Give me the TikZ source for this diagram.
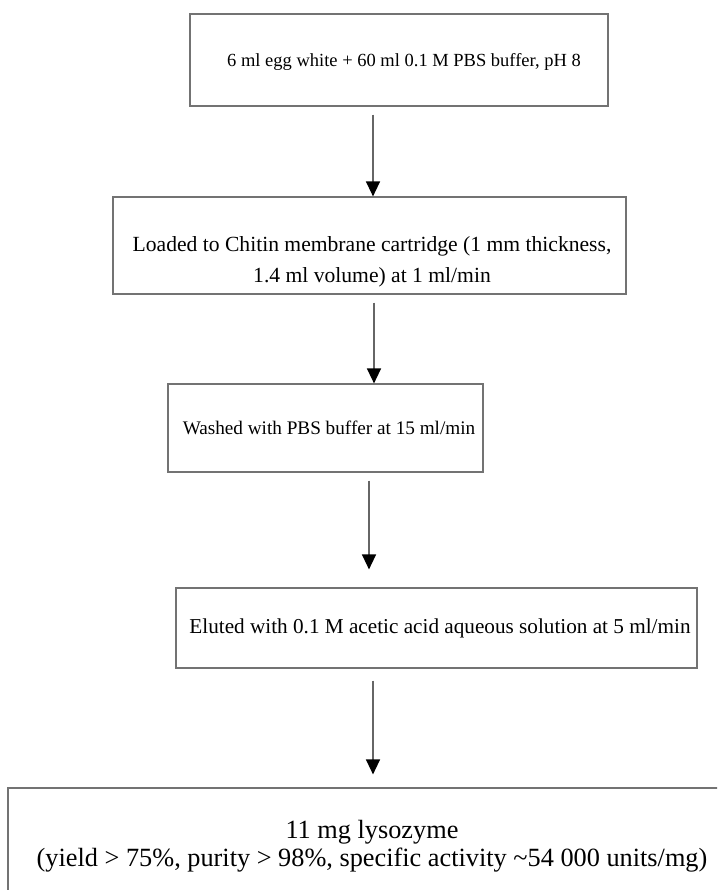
\documentclass[tikz,border=0pt]{standalone}
\usepackage{fontspec}
\setmainfont{Liberation Serif}
\usetikzlibrary{arrows.meta}
\begin{document}
\begin{tikzpicture}[x=1pt,y=-1pt,
  stepbox/.style={draw=black!55,line width=1.2pt,rectangle,inner sep=0pt},
  steptext/.style={inner sep=0pt,align=center,text=black},
  arr/.style={draw=black!60,line width=1.4pt,-{Triangle[width=14pt,length=15pt,fill=black,color=black]}}]
\useasboundingbox (0,0) rectangle (717,890);
\clip (0,0) rectangle (717,890);
\fill[white] (0,0) rectangle (717,890);
\node[stepbox,minimum width=418pt,minimum height=92pt] (b1) at (399,60) {};
\node[steptext,font=\fontsize{18.5}{30}\selectfont] (t1) at (404,62)
  {6 ml egg white + 60 ml 0.1 M PBS buffer, pH 8};
\node[stepbox,minimum width=513pt,minimum height=97pt] (b2) at (369.5,245.5) {};
\node[steptext,font=\fontsize{21.6}{31}\selectfont] (t2) at (372,262)
  {Loaded to Chitin membrane cartridge (1 mm thickness,\\1.4 ml volume) at 1 ml/min};
\node[stepbox,minimum width=315pt,minimum height=88pt] (b3) at (325.5,428) {};
\node[steptext,font=\fontsize{19.2}{30}\selectfont] (t3) at (329,428)
  {Washed with PBS buffer at 15 ml/min};
\node[stepbox,minimum width=521pt,minimum height=80pt] (b4) at (436.5,628) {};
\node[steptext,font=\fontsize{21.2}{30}\selectfont] (t4) at (440,628)
  {Eluted with 0.1 M acetic acid aqueous solution at 5 ml/min};
\node[stepbox,minimum width=728pt,minimum height=112pt] (b5) at (372,844) {};
\node[steptext,font=\fontsize{26.3}{28}\selectfont] (t5) at (372,846)
  {11 mg lysozyme\\(yield > 75\%, purity > 98\%, specific activity \textasciitilde54 000 units/mg)};
\draw[arr,shorten <=8pt] ([xshift=-26pt]b1.south) -- ([xshift=3.5pt]b2.north);
\draw[arr,shorten <=8pt] ([xshift=4.5pt]b2.south) -- ([xshift=48.5pt]b3.north);
\draw[arr,shorten <=8pt,shorten >=18pt] ([xshift=43.5pt]b3.south) -- ([xshift=-67.5pt]b4.north);
\draw[arr,shorten <=12pt,shorten >=13pt] ([xshift=-63.5pt]b4.south) -- ([xshift=1pt]b5.north);
\end{tikzpicture}
\end{document}
